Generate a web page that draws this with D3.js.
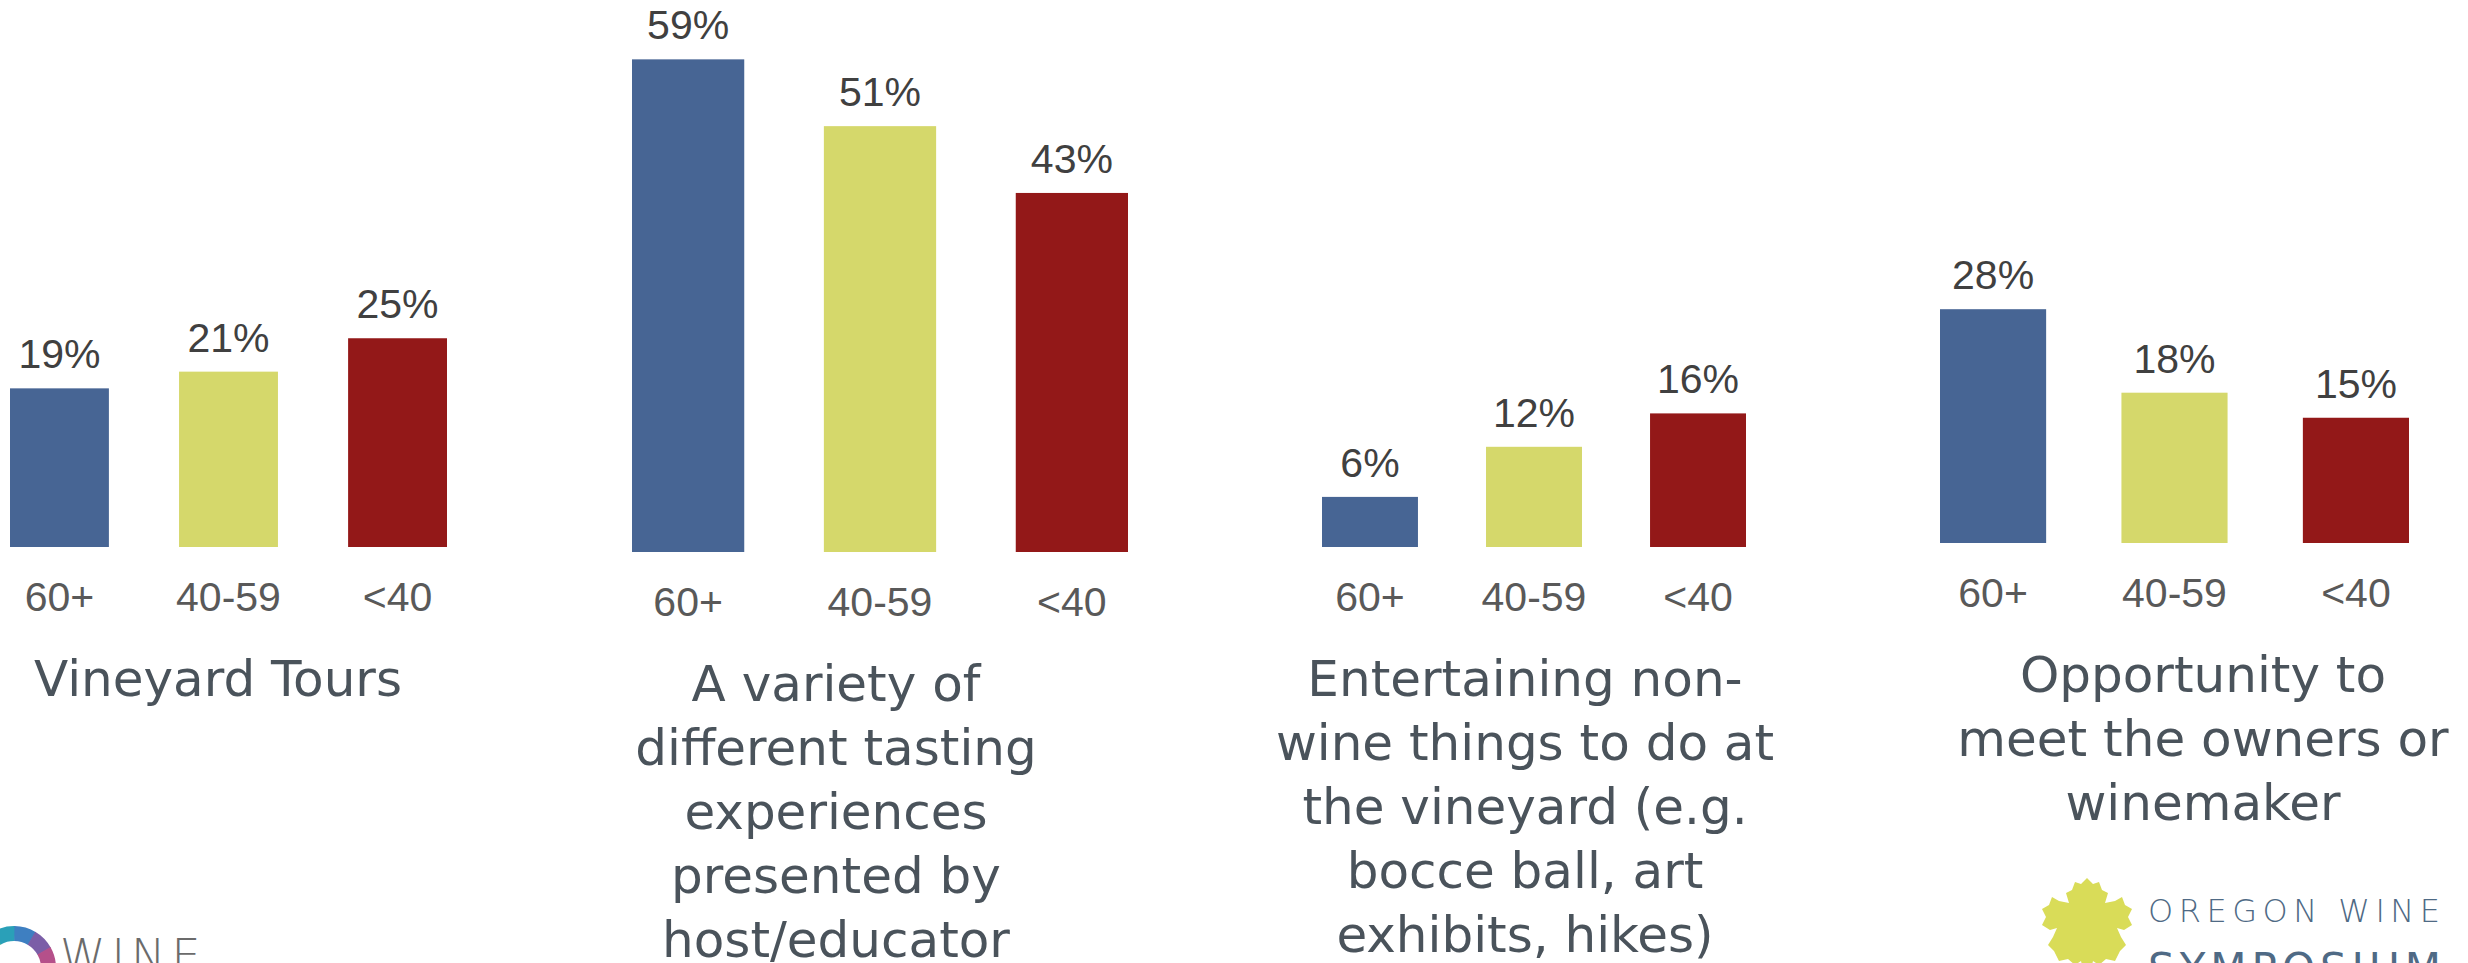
<!DOCTYPE html>
<html lang="en">
<head>
  <meta charset="UTF-8">
  <title>Winery experiences by age</title>
  <style>
    html, body { margin: 0; padding: 0; background: #fff; }
    svg { display: block; }
    .val { font-family: "Liberation Sans", Arial, sans-serif; font-size: 41px; fill: #404040; text-anchor: middle; }
    .cat { font-family: "Liberation Sans", Arial, sans-serif; font-size: 41px; fill: #595959; text-anchor: middle; }
    .title { font-family: "DejaVu Sans", sans-serif; font-size: 50px; fill: #4a535b; text-anchor: middle; }
  </style>
</head>
<body>
  <svg width="2468" height="963"></svg>

  <script src="https://d3js.org/d3.v7.min.js"></script>
  <script>
    // age groups and series values (percent)
    var ageGroups = ["60+", "40-59", "<40"];
    var tours = [19, 21, 25];
    var tasting = [59, 51, 43];
    var nonWine = [6, 12, 16];
    var owners = [28, 18, 15];

    var titleTours = ["Vineyard Tours"];
    var titleTasting = ["A variety of", "different tasting", "experiences", "presented by", "host/educator"];
    var titleNonWine = ["Entertaining non-", "wine things to do at", "the vineyard (e.g.", "bocce ball, art", "exhibits, hikes)"];
    var titleOwners = ["Opportunity to", "meet the owners or", "winemaker"];

    var colors = ["#476594", "#d5d86b", "#931818"];

    // layout of the four small charts
    var panels = [
      {values: tours,   title: titleTours,   left: 10,   right: 447,  base: 547, tx: 218},
      {values: tasting, title: titleTasting, left: 632,  right: 1128, base: 552, tx: 836},
      {values: nonWine, title: titleNonWine, left: 1322, right: 1746, base: 547, tx: 1525},
      {values: owners,  title: titleOwners,  left: 1940, right: 2409, base: 543, tx: 2203}
    ];

    var svg = d3.select("svg");

    // same vertical scale for every panel
    var h = d3.scaleLinear().domain([0, 100]).range([0, 835]);

    panels.forEach(function(p) {
      var x = d3.scaleBand()
          .domain(ageGroups)
          .range([p.left, p.right])
          .paddingInner(0.415)
          .paddingOuter(0);

      var g = svg.append("g");
      var rows = ageGroups.map(function(a, i) { return {age: a, v: p.values[i]}; });

      g.selectAll("rect")
        .data(rows)
        .enter().append("rect")
        .attr("x", d => x(d.age))
        .attr("width", x.bandwidth())
        .attr("y", d => p.base - h(d.v))
        .attr("height", d => h(d.v))
        .attr("fill", (d, i) => colors[i]);

      g.selectAll("text.val")
        .data(rows)
        .enter().append("text")
        .attr("class", "val")
        .attr("x", d => x(d.age) + x.bandwidth() / 2)
        .attr("y", d => p.base - h(d.v) - 20)
        .text(d => d.v + "%");

      g.selectAll("text.cat")
        .data(rows)
        .enter().append("text")
        .attr("class", "cat")
        .attr("x", d => x(d.age) + x.bandwidth() / 2)
        .attr("y", p.base + 64)
        .text(d => d.age);

      g.selectAll("text.title")
        .data(p.title)
        .enter().append("text")
        .attr("class", "title")
        .attr("x", p.tx)
        .attr("y", (d, i) => p.base + 149 + i * 64)
        .text(d => d);
    });

    // bottom-left logo: coloured ring and WINE
    var ringColors = ["#8cc63f", "#3fb37a", "#2aa0b8", "#3e7fc1", "#7b5ea7", "#b5508a"];
    var arc = d3.arc().innerRadius(27).outerRadius(42);
    var ring = svg.append("g").attr("transform", "translate(14,968)");
    ringColors.forEach(function(c, i) {
      var a0 = -1.55 + i * 0.52, a1 = a0 + 0.54;
      ring.append("path")
        .attr("d", arc({startAngle: a0, endAngle: a1}))
        .attr("fill", c);
    });
    svg.append("text")
      .attr("x", 60).attr("y", 972)
      .attr("font-family", "DejaVu Sans").attr("font-weight", 200)
      .attr("font-size", 46).attr("letter-spacing", 6)
      .attr("fill", "#6b6b6b")
      .text("WINE");

    // bottom-right logo: grape leaf and OREGON WINE SYMPOSIUM
    var half = [[0,-47],[6,-41],[12,-43],[15,-35],[21,-32],[18,-22],[28,-24],[35,-28],[38,-20],[45,-16],[41,-8],[45,0],[37,5],[30,3],
                [34,12],[39,20],[33,26],[28,36],[19,34],[12,40],[6,36],[3,48]];
    var leafPts = half.concat(half.slice().reverse().map(function(p) { return [-p[0], p[1]]; }));
    svg.append("path")
      .attr("transform", "translate(2087,925)")
      .attr("d", d3.line()(leafPts) + "Z")
      .attr("fill", "#d9dc58");

    svg.append("text")
      .attr("x", 2148).attr("y", 922)
      .attr("font-family", "DejaVu Sans").attr("font-weight", 300)
      .attr("font-size", 32).attr("letter-spacing", 5.5)
      .attr("fill", "#4f6a85")
      .text("OREGON WINE");
    svg.append("text")
      .attr("x", 2148).attr("y", 983)
      .attr("font-family", "DejaVu Sans")
      .attr("font-size", 42).attr("letter-spacing", 5)
      .attr("fill", "#4f6a85")
      .text("SYMPOSIUM");
  </script>
</body>
</html>
